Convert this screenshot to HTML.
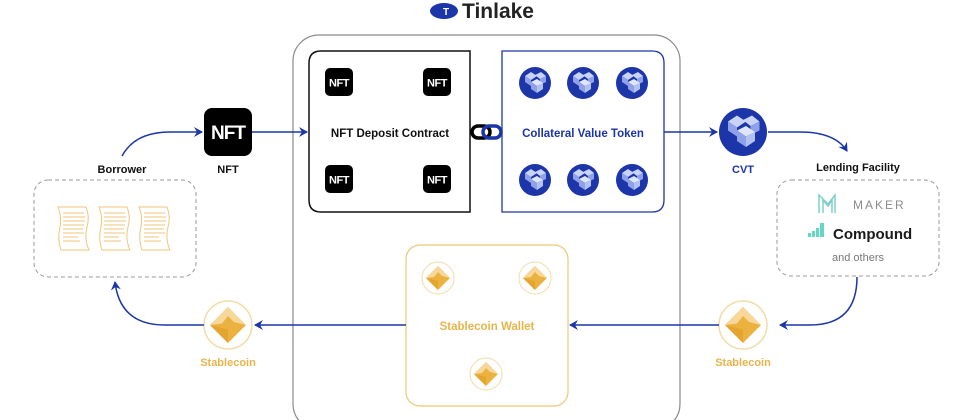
<!DOCTYPE html>
<html><head><meta charset="utf-8"><style>
html,body{margin:0;padding:0;background:#fff;width:971px;height:420px;overflow:hidden}
svg{display:block}
text{font-family:"Liberation Sans",sans-serif;font-weight:bold}
</style></head><body>
<svg width="971" height="420" viewBox="0 0 971 420" xmlns="http://www.w3.org/2000/svg">
<defs>
<marker id="ar" markerWidth="10" markerHeight="10" refX="8" refY="5" orient="auto" markerUnits="userSpaceOnUse">
<path d="M0,0 L9,5 L0,10 L3,5 Z" fill="#1c35a8"/></marker>
<g id="cvt">
<circle r="16" fill="#1c35a8"/>
<path d="M-10,-7 L-4,-11 L2,-7 L-4,-3Z M0,-8 L6,-11 L11,-7 L5,-4Z" fill="#c9d3f5"/>
<path d="M-10,-7 L-4,-3 L-4,3 L-10,-1Z M5,-4 L11,-7 L11,-1 L5,2Z" fill="#8fa2e8"/>
<path d="M-4,-1 L2,-4 L8,0 L2,3Z" fill="#dfe5fa"/>
<path d="M-4,-1 L2,3 L2,10 L-4,6Z" fill="#8fa2e8"/>
<path d="M2,3 L8,0 L8,6 L2,10Z" fill="#b3c1f0"/>
</g>
<g id="coin">
<circle r="16" fill="#fff" stroke="#f0dca6" stroke-width="1"/>
<path d="M0,-12 L12,0 L0,12 L-12,0Z" fill="#ebb23f"/>
<path d="M0,-12 L12,0 L4,-2 L0,-6 L-4,-1 L-12,0Z" fill="#f7d89a"/>
<path d="M-12,0 L0,12 L0,3Z" fill="#e3a52f"/>
</g>
<g id="nft">
<rect x="0" y="0" width="28" height="28" rx="5" fill="#000"/>
<text x="14" y="18.5" font-size="11" fill="#fff" text-anchor="middle" letter-spacing="-0.5">NFT</text>
</g>
<g id="doc" fill="none" stroke="#f0c678" stroke-width="1">
<path d="M0,0 L28,0 Q32,10 29,20 Q26,32 31,43 L3,43 Q-1,32 2,20 Q4,10 0,0Z"/>
<path d="M5,6H26 M5,10H27 M5,14H27 M5,18H26 M5,22H25 M5,26H26 M5,30H20 M5,34H22"/>
</g>
</defs>

<ellipse cx="444" cy="11" rx="14" ry="8" fill="#1c35a8"/>
<text x="446" y="15" font-size="10" fill="#fff" text-anchor="middle">T</text>
<text x="462" y="18" font-size="21" fill="#222">Tinlake</text>

<rect x="293" y="35" width="387" height="395" rx="26" fill="none" stroke="#8a8a8a" stroke-width="1.2"/>

<path d="M470,51 H321 Q309,51 309,63 V200 Q309,212 321,212 H470 Z" fill="#fff" stroke="#111" stroke-width="1.5"/>
<use href="#nft" x="325" y="68"/><use href="#nft" x="423" y="68"/>
<use href="#nft" x="325" y="165"/><use href="#nft" x="423" y="165"/>
<text x="390" y="137" font-size="11.5" fill="#111" text-anchor="middle">NFT Deposit Contract</text>

<path d="M502,51 H652 Q664,51 664,63 V200 Q664,212 652,212 H502 Z" fill="#fff" stroke="#1c35a8" stroke-width="1.3"/>
<use href="#cvt" x="535" y="83"/><use href="#cvt" x="583" y="83"/><use href="#cvt" x="632" y="83"/>
<use href="#cvt" x="535" y="180"/><use href="#cvt" x="583" y="180"/><use href="#cvt" x="632" y="180"/>
<text x="583" y="137" font-size="11.5" fill="#1c35a8" text-anchor="middle">Collateral Value Token</text>

<rect x="472" y="126" width="18" height="12" rx="6" fill="none" stroke="#000" stroke-width="3.5"/>
<rect x="483" y="126" width="18" height="12" rx="6" fill="none" stroke="#1c35a8" stroke-width="3.5"/>

<rect x="406" y="245" width="162" height="161" rx="14" fill="#fff" stroke="#ecc878" stroke-width="1.2"/>
<use href="#coin" x="438" y="278"/><use href="#coin" x="535" y="278"/><use href="#coin" x="486" y="374"/>
<text x="487" y="330" font-size="11.5" fill="#e8b44c" text-anchor="middle">Stablecoin Wallet</text>

<path d="M122,156 Q135,132 170,132 L202,132" fill="none" stroke="#1c35a8" stroke-width="1.5" marker-end="url(#ar)"/>
<rect x="204" y="108" width="48" height="48" rx="8" fill="#000"/>
<text x="228" y="139" font-size="19" fill="#fff" text-anchor="middle" letter-spacing="-1">NFT</text>
<text x="228" y="173" font-size="11" fill="#111" text-anchor="middle">NFT</text>
<text x="122" y="173" font-size="11" fill="#111" text-anchor="middle">Borrower</text>
<line x1="252" y1="132" x2="307" y2="132" stroke="#1c35a8" stroke-width="1.5" marker-end="url(#ar)"/>
<rect x="34" y="180" width="162" height="97" rx="14" fill="none" stroke="#999" stroke-width="1" stroke-dasharray="4,3"/>
<use href="#doc" x="58" y="207"/><use href="#doc" x="99" y="207"/><use href="#doc" x="139" y="207"/>

<line x1="406" y1="325" x2="255" y2="325" stroke="#1c35a8" stroke-width="1.5" marker-end="url(#ar)"/>
<g transform="translate(228,325) scale(1.5)"><use href="#coin"/></g>
<text x="228" y="366" font-size="11" fill="#e8b44c" text-anchor="middle">Stablecoin</text>
<path d="M204,325 L165,325 Q120,325 115,282" fill="none" stroke="#1c35a8" stroke-width="1.5" marker-end="url(#ar)"/>

<line x1="664" y1="132" x2="717" y2="132" stroke="#1c35a8" stroke-width="1.5" marker-end="url(#ar)"/>
<g transform="translate(743,132) scale(1.5)"><use href="#cvt"/></g>
<text x="743" y="173" font-size="11" fill="#1c35a8" text-anchor="middle">CVT</text>
<path d="M768,132 L800,132 Q835,132 847,151" fill="none" stroke="#1c35a8" stroke-width="1.5" marker-end="url(#ar)"/>
<text x="858" y="171" font-size="11" fill="#111" text-anchor="middle">Lending Facility</text>
<rect x="777" y="180" width="162" height="96" rx="14" fill="none" stroke="#999" stroke-width="1" stroke-dasharray="4,3"/>
<path d="M819,213 V195 L828,204 L835,195 V213 M823,213 V200 L828,206 L832,200 V213" fill="none" stroke="#7fd0c8" stroke-width="1.5"/>
<text x="853" y="209" font-size="12" fill="#8a8a8a" letter-spacing="2" style="font-weight:normal">MAKER</text>
<path d="M808,237 h3 v-4 h-3z M812,237 h3 v-6 h-3z M816,237 h3 v-9 h-3z M820,237 h4 v-14 h-4z" fill="#62d8c4"/>
<text x="833" y="239" font-size="15" fill="#1a1a1a">Compound</text>
<text x="858" y="261" font-size="11" fill="#777" text-anchor="middle" style="font-weight:normal">and others</text>
<path d="M857,277 Q857,325 810,325 L780,325" fill="none" stroke="#1c35a8" stroke-width="1.5" marker-end="url(#ar)"/>
<g transform="translate(743,325) scale(1.5)"><use href="#coin"/></g>
<text x="743" y="366" font-size="11" fill="#e8b44c" text-anchor="middle">Stablecoin</text>
<line x1="719" y1="325" x2="570" y2="325" stroke="#1c35a8" stroke-width="1.5" marker-end="url(#ar)"/>
</svg>
</body></html>
